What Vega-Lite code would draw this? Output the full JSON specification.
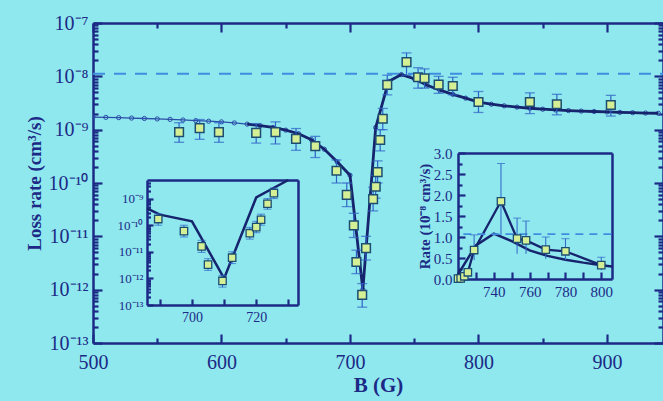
{
"$schema":"https://vega.github.io/schema/vega-lite/v6.json",
"width":570,"height":320,
"autosize":"none",
"padding":{"left":93,"top":23,"right":0,"bottom":58},
"background":"#8fe8ee",
"config":{"view":{"stroke":null},"axis":{"grid":false,"domainColor":"#1c2a86","domainWidth":2.5,"tickColor":"#1c2a86","tickWidth":2.2,"labelColor":"#1c2a86","titleColor":"#1c2a86","labelFont":"Liberation Serif","titleFont":"Liberation Serif","labelFlush":false,"labelOverlap":false}},
"datasets":{
"pts":[
{"B":567,"v":9.0e-10,"lo":5.8e-10,"hi":1.35e-9},
{"B":583,"v":1.07e-9,"lo":6.6e-10,"hi":1.55e-9},
{"B":598,"v":9.0e-10,"lo":5.8e-10,"hi":1.35e-9},
{"B":627,"v":8.7e-10,"lo":5.6e-10,"hi":1.3e-9},
{"B":642,"v":9.0e-10,"lo":5.4e-10,"hi":1.4e-9},
{"B":658,"v":6.7e-10,"lo":4.1e-10,"hi":1.05e-9},
{"B":673,"v":4.9e-10,"lo":3.0e-10,"hi":7.5e-10},
{"B":689.5,"v":1.7e-10,"lo":1.0e-10,"hi":2.7e-10},
{"B":697.5,"v":6.0e-11,"lo":3.6e-11,"hi":1.0e-10},
{"B":703,"v":1.6e-11,"lo":9.5e-12,"hi":2.7e-11},
{"B":705,"v":3.3e-12,"lo":2.0e-12,"hi":5.5e-12},
{"B":709.5,"v":8.0e-13,"lo":4.7e-13,"hi":1.3e-12},
{"B":712.5,"v":6.0e-12,"lo":3.6e-12,"hi":1.0e-11},
{"B":718,"v":5.0e-11,"lo":3.0e-11,"hi":8.3e-11},
{"B":720,"v":8.5e-11,"lo":5.2e-11,"hi":1.4e-10},
{"B":721.5,"v":1.6e-10,"lo":1.0e-10,"hi":2.6e-10},
{"B":723.5,"v":6.4e-10,"lo":4e-10,"hi":1.0e-9},
{"B":725.5,"v":1.6e-9,"lo":1.0e-9,"hi":2.5e-9},
{"B":729,"v":6.9e-9,"lo":4.5e-9,"hi":1.05e-8},
{"B":744,"v":1.85e-8,"lo":1.05e-8,"hi":2.75e-8},
{"B":753,"v":9.6e-9,"lo":6.0e-9,"hi":1.45e-8},
{"B":758,"v":9.2e-9,"lo":6.0e-9,"hi":1.38e-8},
{"B":769,"v":7.0e-9,"lo":4.8e-9,"hi":1.0e-8},
{"B":780,"v":6.6e-9,"lo":4.5e-9,"hi":9.6e-9},
{"B":800,"v":3.3e-9,"lo":2.1e-9,"hi":5.2e-9},
{"B":840,"v":3.3e-9,"lo":2.0e-9,"hi":4.9e-9},
{"B":861,"v":3.0e-9,"lo":1.9e-9,"hi":4.6e-9},
{"B":903,"v":2.9e-9,"lo":1.8e-9,"hi":4.4e-9}
],
"theory":[
{"B":500,"v":1.72e-9},{"B":510,"v":1.70e-9},{"B":520,"v":1.68e-9},{"B":530,"v":1.65e-9},{"B":540,"v":1.62e-9},
{"B":550,"v":1.59e-9},{"B":560,"v":1.56e-9},{"B":570,"v":1.52e-9},{"B":580,"v":1.48e-9},{"B":590,"v":1.44e-9},
{"B":600,"v":1.40e-9},{"B":610,"v":1.34e-9},{"B":620,"v":1.27e-9},{"B":630,"v":1.19e-9},{"B":640,"v":1.10e-9},
{"B":650,"v":9.8e-10},{"B":660,"v":8.4e-10},{"B":670,"v":6.5e-10},{"B":680,"v":4.3e-10},{"B":690,"v":2.5e-10},
{"B":700,"v":1.4e-10},{"B":710,"v":1.0e-12},{"B":720,"v":1.1e-9},{"B":730,"v":8.0e-9},{"B":740,"v":1.08e-8},
{"B":750,"v":9.0e-9},{"B":760,"v":6.8e-9},{"B":770,"v":5.5e-9},{"B":780,"v":4.6e-9},{"B":790,"v":3.9e-9},
{"B":800,"v":3.3e-9},{"B":810,"v":3.0e-9},{"B":820,"v":2.8e-9},{"B":830,"v":2.65e-9},{"B":840,"v":2.52e-9},
{"B":850,"v":2.42e-9},{"B":860,"v":2.34e-9},{"B":870,"v":2.28e-9},{"B":880,"v":2.23e-9},{"B":890,"v":2.19e-9},
{"B":900,"v":2.15e-9},{"B":910,"v":2.11e-9},{"B":920,"v":2.08e-9},{"B":930,"v":2.05e-9},{"B":940,"v":2.03e-9}
],
"dash":[{"B":500,"v":1.12e-8},{"B":943.6,"v":1.12e-8}],
"dash2":[{"B":723,"v":1.07e-8},{"B":806,"v":1.07e-8}]
},
"resolve":{"scale":{"x":"independent","y":"independent"},"axis":{"x":"independent","y":"independent"}},
"layer":[
{
"resolve":{"axis":{"x":"independent","y":"independent"}},
"layer":[
{"data":{"name":"dash"},"mark":{"type":"line","color":"#3f8de0","strokeWidth":2,"strokeDash":[12,9]},
"encoding":{"x":{"field":"B","type":"quantitative","scale":{"domain":[500,943.6],"nice":false,"zero":false},"axis":null},
"y":{"field":"v","type":"quantitative","scale":{"type":"log","domain":[1e-13,1e-7],"nice":false},"axis":null}}},
{"data":{"name":"theory"},"mark":{"type":"line","color":"#2b4ea8","strokeWidth":1.3,"clip":true,"point":{"filled":false,"size":18,"color":"#2b4ea8","strokeWidth":1}},
"encoding":{"x":{"field":"B","type":"quantitative","scale":{"domain":[500,943.6],"nice":false,"zero":false},
"axis":{"orient":"bottom","values":[500,600,700,800,900],"tickSize":-9,"labelPadding":18,"labelFontSize":20,"format":"d","title":"B (G)","titleFontSize":21,"titleFontWeight":"bold","titlePadding":2}},
"y":{"field":"v","type":"quantitative","scale":{"type":"log","domain":[1e-13,1e-7],"nice":false},
"axis":{"orient":"left","values":[1e-13,1e-12,1e-11,1e-10,1e-9,1e-8,1e-7],"tickSize":-9,"labelPadding":14,"labelFontSize":20,"labelExpr":"'10⁻' + ['⁰','¹','²','³','⁴','⁵','⁶','⁷','⁸','⁹','¹⁰','¹¹','¹²','¹³'][-round(log(datum.value)/LN10)]","title":"Loss rate (cm³/s)","titleFontSize":19,"titleFontWeight":"bold","titlePadding":4}}}},
{"data":{"name":"theory"},"transform":[{"filter":{"field":"B","range":[620,960]}}],"mark":{"type":"line","color":"#16246e","strokeWidth":2.8,"clip":true},
"encoding":{"x":{"field":"B","type":"quantitative","scale":{"domain":[500,943.6],"nice":false,"zero":false},
"axis":{"orient":"bottom","values":[550,650,750,850],"tickSize":-5,"labels":false,"domain":false,"title":null}},
"y":{"field":"v","type":"quantitative","scale":{"type":"log","domain":[1e-13,1e-7],"nice":false},
"axis":{"orient":"left","values":[2e-13,3e-13,4e-13,5e-13,6e-13,7e-13,8e-13,9e-13,2e-12,3e-12,4e-12,5e-12,6e-12,7e-12,8e-12,9e-12,2e-11,3e-11,4e-11,5e-11,6e-11,7e-11,8e-11,9e-11,2e-10,3e-10,4e-10,5e-10,6e-10,7e-10,8e-10,9e-10,2e-9,3e-9,4e-9,5e-9,6e-9,7e-9,8e-9,9e-9,2e-8,3e-8,4e-8,5e-8,6e-8,7e-8,8e-8,9e-8],"tickSize":-5,"labels":false,"domain":false,"title":null}}}},
{"data":{"name":"pts"},"mark":{"type":"rule","color":"#2f62c6","strokeWidth":1.2},
"encoding":{"x":{"field":"B","type":"quantitative","scale":{"domain":[500,943.6],"nice":false,"zero":false},
"axis":{"orient":"top","values":[500,600,700,800,900],"tickSize":-9,"labels":false,"title":null}},
"y":{"field":"lo","type":"quantitative","scale":{"type":"log","domain":[1e-13,1e-7],"nice":false},
"axis":{"orient":"right","values":[1e-13,1e-12,1e-11,1e-10,1e-9,1e-8,1e-7],"tickSize":-9,"labels":false,"title":null}},
"y2":{"field":"hi"}}},
{"data":{"name":"pts"},"mark":{"type":"tick","orient":"horizontal","color":"#2f62c6","size":10,"thickness":1.3},
"encoding":{"x":{"field":"B","type":"quantitative","scale":{"domain":[500,943.6],"nice":false,"zero":false},
"axis":{"orient":"top","values":[550,650,750,850],"tickSize":-5,"labels":false,"domain":false,"title":null}},
"y":{"field":"lo","type":"quantitative","scale":{"type":"log","domain":[1e-13,1e-7],"nice":false},
"axis":{"orient":"right","values":[2e-13,3e-13,4e-13,5e-13,6e-13,7e-13,8e-13,9e-13,2e-12,3e-12,4e-12,5e-12,6e-12,7e-12,8e-12,9e-12,2e-11,3e-11,4e-11,5e-11,6e-11,7e-11,8e-11,9e-11,2e-10,3e-10,4e-10,5e-10,6e-10,7e-10,8e-10,9e-10,2e-9,3e-9,4e-9,5e-9,6e-9,7e-9,8e-9,9e-9,2e-8,3e-8,4e-8,5e-8,6e-8,7e-8,8e-8,9e-8],"tickSize":-5,"labels":false,"domain":false,"title":null}}}},
{"data":{"name":"pts"},"mark":{"type":"tick","orient":"horizontal","color":"#2f62c6","size":10,"thickness":1.3},
"encoding":{"x":{"field":"B","type":"quantitative","scale":{"domain":[500,943.6],"nice":false,"zero":false},"axis":null},
"y":{"field":"hi","type":"quantitative","scale":{"type":"log","domain":[1e-13,1e-7],"nice":false},"axis":null}}},
{"data":{"name":"pts"},"mark":{"type":"point","shape":"square","size":75,"filled":true,"fill":"#d5ef95","stroke":"#1d4d72","strokeWidth":1.5,"opacity":1},
"encoding":{"x":{"field":"B","type":"quantitative","scale":{"domain":[500,943.6],"nice":false,"zero":false},"axis":null},
"y":{"field":"v","type":"quantitative","scale":{"type":"log","domain":[1e-13,1e-7],"nice":false},"axis":null}}}
]
},
{
"resolve":{"axis":{"x":"independent","y":"independent"}},
"layer":[
{"data":{"name":"theory"},"transform":[{"filter":{"field":"B","range":[680,730]}}],"mark":{"type":"line","color":"#16246e","strokeWidth":2.5},
"encoding":{"x":{"field":"B","type":"quantitative","scale":{"domain":[686,733],"range":[54,205],"nice":false,"zero":false,"clamp":true},
"axis":{"orient":"bottom","offset":-38,"values":[690,700,710,720,730],"labelExpr":"datum.value % 20 == 0 ? datum.value : ''","tickSize":-6,"labelPadding":11,"labelFontSize":14,"title":null}},
"y":{"field":"v","type":"quantitative","scale":{"type":"log","domain":[1e-13,5e-9],"range":[282,157],"nice":false,"clamp":true},
"axis":{"orient":"left","offset":-54,"values":[1e-13,1e-12,1e-11,1e-10,1e-9],"tickSize":-6,"labelPadding":10,"labelFontSize":13,"labelExpr":"'10⁻' + ['⁰','¹','²','³','⁴','⁵','⁶','⁷','⁸','⁹','¹⁰','¹¹','¹²','¹³'][-round(log(datum.value)/LN10)]","title":null}}}},
{"data":{"name":"pts"},"transform":[{"filter":"datum.B >= 686 && datum.B <= 733 && datum.v <= 5e-9"}],"mark":{"type":"rule","color":"#2f62c6","strokeWidth":1},
"encoding":{"x":{"field":"B","type":"quantitative","scale":{"domain":[686,733],"range":[54,205],"nice":false,"zero":false,"clamp":true},
"axis":{"orient":"top","offset":-157,"ticks":false,"labels":false,"title":null}},
"y":{"field":"lo","type":"quantitative","scale":{"type":"log","domain":[1e-13,5e-9],"range":[282,157],"nice":false,"clamp":true},
"axis":{"orient":"right","offset":-365,"ticks":false,"labels":false,"title":null}},
"y2":{"field":"hi"}}},
{"data":{"name":"pts"},"transform":[{"filter":"datum.B >= 686 && datum.B <= 733 && datum.v <= 5e-9"}],"mark":{"type":"tick","orient":"horizontal","color":"#2f62c6","size":8,"thickness":1},
"encoding":{"x":{"field":"B","type":"quantitative","scale":{"domain":[686,733],"range":[54,205],"nice":false,"zero":false,"clamp":true},"axis":null},
"y":{"field":"lo","type":"quantitative","scale":{"type":"log","domain":[1e-13,5e-9],"range":[282,157],"nice":false,"clamp":true},
"axis":{"orient":"left","offset":-54,"values":[2e-13,3e-13,4e-13,5e-13,6e-13,7e-13,8e-13,9e-13,2e-12,3e-12,4e-12,5e-12,6e-12,7e-12,8e-12,9e-12,2e-11,3e-11,4e-11,5e-11,6e-11,7e-11,8e-11,9e-11,2e-10,3e-10,4e-10,5e-10,6e-10,7e-10,8e-10,9e-10,2e-9,3e-9,4e-9],"tickSize":-3.5,"labels":false,"domain":false,"title":null}}}},
{"data":{"name":"pts"},"transform":[{"filter":"datum.B >= 686 && datum.B <= 733 && datum.v <= 5e-9"}],"mark":{"type":"tick","orient":"horizontal","color":"#2f62c6","size":8,"thickness":1},
"encoding":{"x":{"field":"B","type":"quantitative","scale":{"domain":[686,733],"range":[54,205],"nice":false,"zero":false,"clamp":true},"axis":null},
"y":{"field":"hi","type":"quantitative","scale":{"type":"log","domain":[1e-13,5e-9],"range":[282,157],"nice":false,"clamp":true},"axis":null}}},
{"data":{"name":"pts"},"transform":[{"filter":"datum.B >= 686 && datum.B <= 733 && datum.v <= 5e-9"}],"mark":{"type":"point","shape":"square","size":55,"filled":true,"fill":"#d5ef95","stroke":"#1d4d72","strokeWidth":1.3,"opacity":1},
"encoding":{"x":{"field":"B","type":"quantitative","scale":{"domain":[686,733],"range":[54,205],"nice":false,"zero":false,"clamp":true},"axis":null},
"y":{"field":"v","type":"quantitative","scale":{"type":"log","domain":[1e-13,5e-9],"range":[282,157],"nice":false,"clamp":true},"axis":null}}}
]
},
{
"resolve":{"axis":{"x":"independent","y":"independent"}},
"layer":[
{"data":{"name":"theory"},"transform":[{"filter":{"field":"B","range":[720,810]}}],"mark":{"type":"line","color":"#16246e","strokeWidth":2.5},
"encoding":{"x":{"field":"B","type":"quantitative","scale":{"domain":[720,806],"range":[365,519],"nice":false,"zero":false,"clamp":true},
"axis":{"orient":"bottom","offset":-64,"values":[730,740,750,760,770,780,790,800],"labelExpr":"datum.value % 20 == 0 ? datum.value : ''","tickSize":-7,"labelPadding":12,"labelFontSize":15,"title":null}},
"y":{"field":"v","type":"quantitative","scale":{"domain":[0,3e-8],"range":[256,130],"nice":false,"zero":false,"clamp":true},
"axis":{"orient":"left","offset":-365,"values":[0,5e-9,1e-8,1.5e-8,2e-8,2.5e-8,3e-8],"labelExpr":"format(datum.value*1e8, '.1f')","tickSize":-7,"labelPadding":13,"labelFontSize":15,"title":"Rate (10⁻⁸ cm³/s)","titleFontSize":15,"titleFontWeight":"bold","titlePadding":1}}}},
{"data":{"name":"pts"},"transform":[{"filter":{"field":"B","range":[720,806]}}],"mark":{"type":"line","color":"#16246e","strokeWidth":2.3},
"encoding":{"x":{"field":"B","type":"quantitative","scale":{"domain":[720,806],"range":[365,519],"nice":false,"zero":false,"clamp":true},
"axis":{"orient":"top","offset":-130,"ticks":false,"labels":false,"title":null}},
"y":{"field":"v","type":"quantitative","scale":{"domain":[0,3e-8],"range":[256,130],"nice":false,"zero":false,"clamp":true},
"axis":{"orient":"right","offset":-51,"ticks":false,"labels":false,"title":null}}}},
{"data":{"name":"dash2"},"mark":{"type":"line","color":"#3f8de0","strokeWidth":1.8,"strokeDash":[8,6]},
"encoding":{"x":{"field":"B","type":"quantitative","scale":{"domain":[720,806],"range":[365,519],"nice":false,"zero":false,"clamp":true},"axis":null},
"y":{"field":"v","type":"quantitative","scale":{"domain":[0,3e-8],"range":[256,130],"nice":false,"zero":false,"clamp":true},
"axis":{"orient":"left","offset":-365,"values":[2.5e-9,7.5e-9,1.25e-8,1.75e-8,2.25e-8,2.75e-8],"tickSize":-4,"labels":false,"domain":false,"title":null}}}},
{"data":{"name":"pts"},"transform":[{"filter":{"field":"B","range":[720,806]}}],"mark":{"type":"rule","color":"#2f62c6","strokeWidth":1},
"encoding":{"x":{"field":"B","type":"quantitative","scale":{"domain":[720,806],"range":[365,519],"nice":false,"zero":false,"clamp":true},"axis":null},
"y":{"field":"lo","type":"quantitative","scale":{"domain":[0,3e-8],"range":[256,130],"nice":false,"zero":false,"clamp":true},"axis":null},
"y2":{"field":"hi"}}},
{"data":{"name":"pts"},"transform":[{"filter":{"field":"B","range":[720,806]}}],"mark":{"type":"tick","orient":"horizontal","color":"#2f62c6","size":8,"thickness":1},
"encoding":{"x":{"field":"B","type":"quantitative","scale":{"domain":[720,806],"range":[365,519],"nice":false,"zero":false,"clamp":true},"axis":null},
"y":{"field":"hi","type":"quantitative","scale":{"domain":[0,3e-8],"range":[256,130],"nice":false,"zero":false,"clamp":true},"axis":null}}},
{"data":{"name":"pts"},"transform":[{"filter":{"field":"B","range":[720,806]}}],"mark":{"type":"point","shape":"square","size":55,"filled":true,"fill":"#d5ef95","stroke":"#1d4d72","strokeWidth":1.3,"opacity":1},
"encoding":{"x":{"field":"B","type":"quantitative","scale":{"domain":[720,806],"range":[365,519],"nice":false,"zero":false,"clamp":true},"axis":null},
"y":{"field":"v","type":"quantitative","scale":{"domain":[0,3e-8],"range":[256,130],"nice":false,"zero":false,"clamp":true},"axis":null}}}
]
}
]
}
